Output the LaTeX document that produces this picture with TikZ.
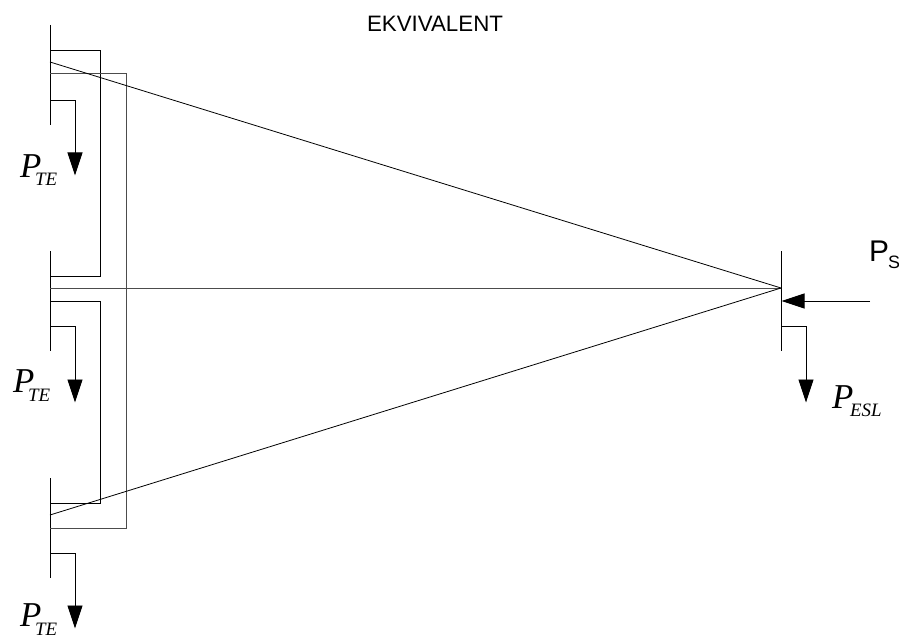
\documentclass[tikz,border=0pt]{standalone}
\usepackage{fontspec}
\setmainfont{Liberation Serif}
\newfontfamily\sansf{Liberation Sans}
\usetikzlibrary{arrows.meta}
\tikzset{
  x=1bp,y=-1bp,
  wire/.style={draw=black,line width=0.8bp},
  gwire/.style={draw=black!70,line width=1bp},
  flow/.style={wire,-{Triangle[length=23bp,width=15bp]},shorten >=-0.5bp},
  lbl/.style={inner sep=0pt,outer sep=0pt,anchor=base west},
  pm/.style={lbl,font=\fontsize{35}{35}\selectfont\itshape},
  ps/.style={lbl,font=\fontsize{19}{19}\selectfont\itshape},
  sf/.style={lbl,font=\sansf\fontsize{30}{30}\selectfont},
}
\begin{document}
\begin{tikzpicture}
\useasboundingbox (0,0) rectangle (899,635);
% buses
\coordinate (b1t) at (50,25);  \coordinate (b1b) at (50,125);
\coordinate (b2t) at (50,251); \coordinate (b2b) at (50,351);
\coordinate (b3t) at (50,478); \coordinate (b3b) at (50,578);
\coordinate (b4t) at (781,251);\coordinate (b4b) at (781,351);
\draw[wire] (b1t)--(b1b);
\draw[wire] (b2t)--(b2b);
\draw[wire] (b3t)--(b3b);
\draw[wire] (b4t)--(b4b);
% tie lines
\coordinate (a1) at (50,50);  \coordinate (a2) at (50,276);
\coordinate (c1) at (50,301); \coordinate (c2) at (50,503);
\coordinate (d1) at (50,74);  \coordinate (d2) at (50,528);
\draw[wire] (a1)--(100,50)--(100,276)--(a2);
\draw[wire] (c1)--(100,301)--(100,503)--(c2);
\draw[gwire] (d1)--(126,74)--(126,528)--(d2);
% long lines
\coordinate (e1) at (50,62); \coordinate (e2) at (50,288); \coordinate (e3) at (50,515);
\coordinate (r) at (781,288);
\draw[wire] (e1)--(r);
\draw[gwire] (e2)--(r);
\draw[wire] (e3)--(r);
% loads
\coordinate (l1) at (50,100); \coordinate (t1) at (75,175);
\coordinate (l2) at (50,326); \coordinate (t2) at (75,402);
\coordinate (l3) at (50,553); \coordinate (t3) at (75,628);
\coordinate (l4) at (781,326);\coordinate (t4) at (806,402);
\draw[flow] (l1)-|(t1);
\draw[flow] (l2)-|(t2);
\draw[flow] (l3)-|(t3);
\draw[flow] (l4)-|(t4);
% source
\coordinate (s0) at (870,301); \coordinate (s1) at (782,301);
\draw[flow] (s0)--(s1);
% labels
\node[lbl,font=\sansf\fontsize{22.4}{22.4}\selectfont] (title) at (367,32) {EKVIVALENT};
\node[pm] (p1) at (20,178) {P}; \node[ps] (p1s) at (35,186) {TE};
\node[pm] (p2) at (13,392) {P}; \node[ps] (p2s) at (28,401) {TE};
\node[pm] (p3) at (20,626) {P}; \node[ps] (p3s) at (35,635) {TE};
\node[pm] (p4) at (832,408) {P}; \node[ps] (p4s) at (850,416) {ESL};
\node[sf] (p5) at (869,262) {P};
\node[lbl,font=\sansf\fontsize{18}{18}\selectfont] (p5s) at (888,269) {S};
\end{tikzpicture}
\end{document}
